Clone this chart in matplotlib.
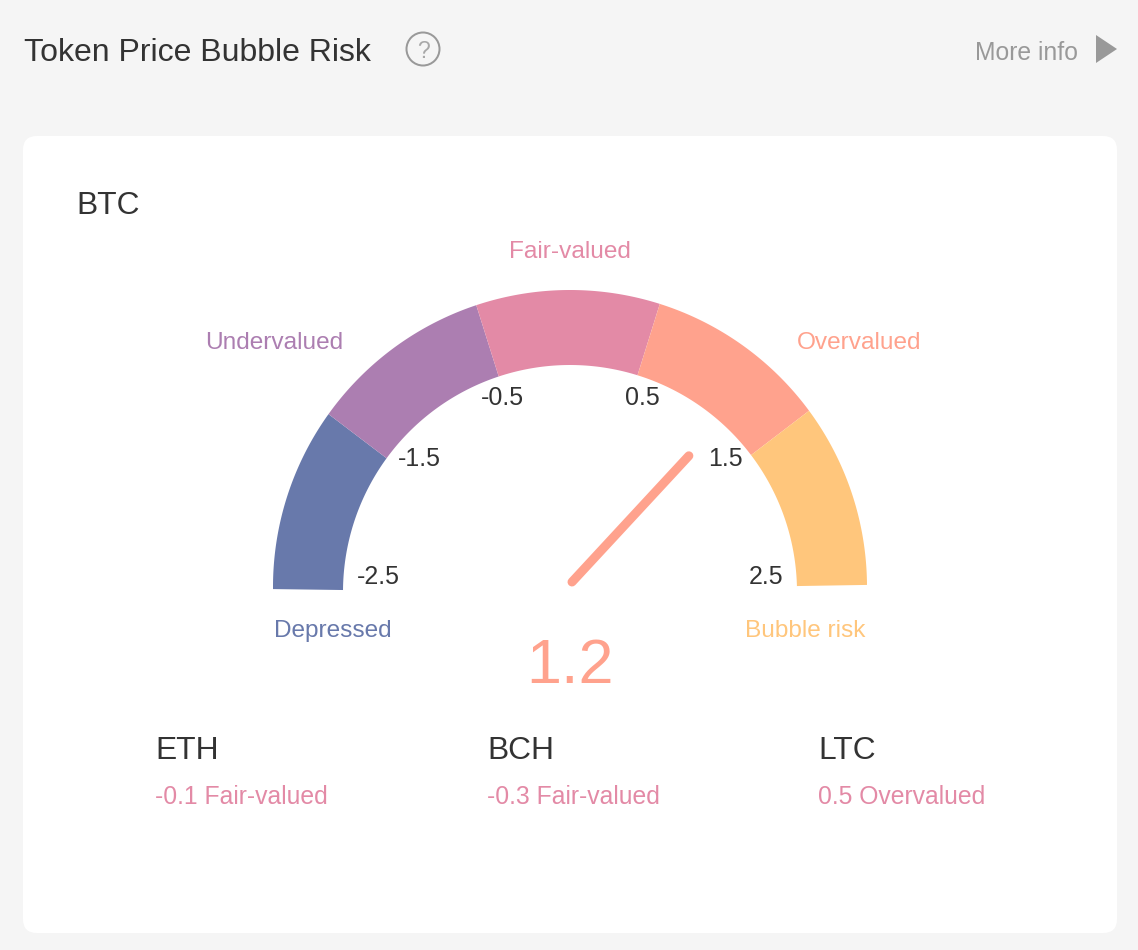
import numpy as np
import matplotlib
matplotlib.use("Agg")
import matplotlib.pyplot as plt
from matplotlib.patches import FancyBboxPatch, Circle, Polygon

# ---- data ----
zone_names = ["Depressed", "Undervalued", "Fair-valued", "Overvalued", "Bubble risk"]
zone_edges = [-2.5, -1.5, -0.5, 0.5, 1.5, 2.5]
zone_colors = ["#6879AB", "#AC7EB1", "#E38AA6", "#FFA28D", "#FFC67C"]
tick_labels = ["-2.5", "-1.5", "-0.5", "0.5", "1.5", "2.5"]
btc_value = 1.2
other_tokens = ["ETH", "BCH", "LTC"]
other_values = [-0.1, -0.3, 0.5]
other_status = ["Fair-valued", "Fair-valued", "Overvalued"]

# ---- layout (pixels) ----
W, H = 1138, 950
INK = "#333333"
GREY = "#999999"
PINK = zone_colors[2]
PX = 0.72  # px -> pt at dpi 100
FONT = "Liberation Sans"

plt.rcParams["font.family"] = [FONT, "DejaVu Sans"]
fig = plt.figure(figsize=(W / 100, H / 100), dpi=100, facecolor="#F5F5F5")
ax = fig.add_axes([0, 0, 1, 1])
ax.set_xlim(0, W)
ax.set_ylim(H, 0)
ax.axis("off")

ax.add_patch(FancyBboxPatch((23, 136), 1094, 797, boxstyle="round,pad=0,rounding_size=14",
                            fc="white", ec="none", zorder=1))


def nominal(v):
    return 180 * (2.5 - v) / 5


def outer_pt(a):
    t = np.deg2rad(a + 0.4)
    return 570 + 297 * np.cos(t), 587 - 297 * np.sin(t)


def inner_pt(a):
    t = np.deg2rad(1.5 + a * 178 / 180)
    return 570 + 227 * np.cos(t), 592 - 227 * np.sin(t)


for lo, hi, col in zip(zone_edges[:-1], zone_edges[1:], zone_colors):
    angs = np.linspace(nominal(lo), nominal(hi), 80)
    ox, oy = outer_pt(angs)
    ix, iy = inner_pt(angs[::-1])
    ax.add_patch(Polygon(np.column_stack([np.r_[ox, ix], np.r_[oy, iy]]), closed=True,
                         fc=col, ec="none", zorder=2))

# needle
t = np.deg2rad(nominal(btc_value) + 0.4)
hub = (572, 582)
ax.plot([hub[0], hub[0] + 172 * np.cos(t)], [hub[1], hub[1] - 172 * np.sin(t)],
        color=zone_colors[3], lw=9 * PX, solid_capstyle="round", zorder=3)


def txt(x, y, s, size, color=INK, ha="left"):
    ax.text(x, y, s, fontsize=size * PX, color=color, ha=ha, va="baseline", zorder=4)


# header
txt(24, 61, "Token Price Bubble Risk", 32)
ax.add_patch(Circle((423, 49), 16.5, fc="none", ec=GREY, lw=2 * PX, zorder=4))
txt(423, 58, "?", 23, "#A8A8A8", "center")
txt(1078, 60, "More info", 24.7, GREY, "right")
ax.add_patch(Polygon([(1096, 35), (1096, 63), (1117, 49)], closed=True, fc=GREY, ec="none", zorder=4))

txt(76, 214, "BTC", 31.8)

# zone names
name_x = [332.5, 274, 570, 859, 805]
name_y = [637, 349, 258, 349, 637]
for s, x, y, c in zip(zone_names, name_x, name_y, zone_colors):
    txt(x, y, s, 24.4, c, "center")

# tick labels
tick_x = [378, 419, 502, 642, 725, 766.5]
tick_y = [584, 466, 405, 405, 466, 584]
for s, x, y in zip(tick_labels, tick_x, tick_y):
    txt(x, y, s, 25, INK, "center")

txt(570, 683, f"{btc_value}", 63, zone_colors[3], "center")

# other tokens
token_x = [155, 487, 818]
for x, name, v, st in zip(token_x, other_tokens, other_values, other_status):
    txt(x, 759, name, 31.8)
    txt(x, 804, f"{v} {st}", 24.7, PINK)

fig.savefig("out.png", dpi=100, facecolor=fig.get_facecolor())
